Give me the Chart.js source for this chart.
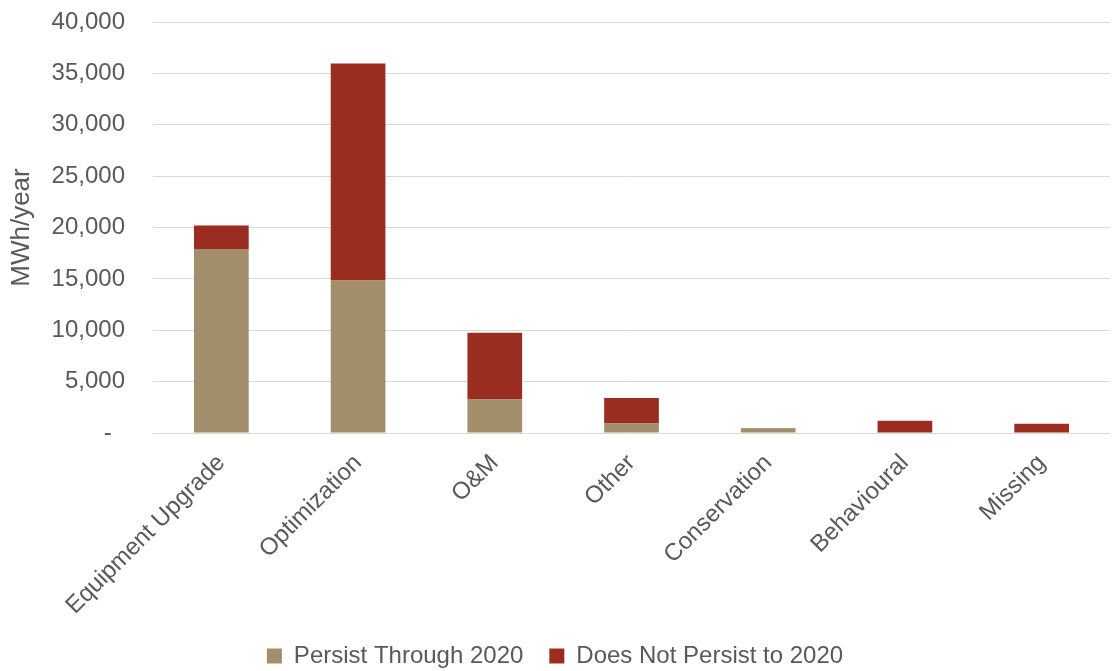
<!DOCTYPE html>
<html>
<head>
<meta charset="utf-8">
<title>Savings by measure type</title>
<script src="https://cdn.jsdelivr.net/npm/chart.js@4.4.0/dist/chart.umd.min.js"></script>
<style>
  html, body { margin:0; padding:0; background:#fff; }
  #wrap { width:1119px; height:671px; }
</style>
</head>
<body>
<div id="wrap"><canvas id="myChart" width="1119" height="671"></canvas></div>
<script>
// measure types and savings (MWh/year)
const categories = ['Equipment Upgrade', 'Optimization', 'O&M', 'Other', 'Conservation', 'Behavioural', 'Missing'];
const persist_values = [17900, 14850, 3250, 930, 460, 60, 50];
const not_persist_values = [2300, 21100, 6500, 2470, 20, 1140, 850];
const y_ticks = [0, 5000, 10000, 15000, 20000, 25000, 30000, 35000, 40000];

const chartColors = {
  tan: '#A38E6B',
  red: '#9A2D20',
  text: '#595959',
  grid: '#d9d9d9'
};
const font_family = "'Liberation Sans', Arial, sans-serif";

Chart.defaults.font.family = font_family;
Chart.defaults.color = chartColors.text;

const data = {
  labels: categories,
  datasets: [{
    label: 'Persist Through 2020',
    backgroundColor: chartColors.tan,
    data: persist_values
  },
  {
    label: 'Does Not Persist to 2020',
    backgroundColor: chartColors.red,
    data: not_persist_values
  }]
};

const options = {
  responsive: false,
  animation: false,
  layout: {
    // bottom is negative so the legend sits close to the lower edge
    padding: { top: 22, right: 9, left: 0, bottom: -7 }
  },
  datasets: {
    bar: { categoryPercentage: 1.0, barPercentage: 0.4 }
  },
  scales: {
    x: {
      stacked: true,
      grid: { display: false },
      border: { display: false },
      ticks: {
        font: { size: 24 },
        color: chartColors.text,
        minRotation: 45,
        maxRotation: 45,
        padding: 8
      },
      afterFit: function(scale) { scale.height = 185; }
    },
    y: {
      stacked: true,
      min: 0,
      max: 40000,
      // invisible tick marks give the gap between labels and gridlines
      grid: { color: chartColors.grid, lineWidth: 1, drawTicks: true, tickLength: 24, tickColor: 'rgba(0,0,0,0)' },
      border: { display: false },
      title: {
        display: true,
        text: 'MWh/year',
        font: { size: 26 },
        color: chartColors.text,
        padding: { top: 6, bottom: 0 }
      },
      ticks: {
        stepSize: 5000,
        font: { size: 24 },
        color: chartColors.text,
        padding: 4,
        callback: function(value) {
          if (y_ticks.indexOf(value) < 0) return null;
          return value == 0 ? '-  ' : value.toLocaleString('en-US');
        }
      },
      afterFit: function(scale) { scale.width = 153; }
    }
  },
  plugins: {
    tooltip: { enabled: false },
    legend: {
      position: 'bottom',
      labels: {
        boxWidth: 15,
        boxHeight: 15,
        padding: 26,
        color: chartColors.text,
        font: { size: 24 }
      }
    }
  }
};

const ctx = document.getElementById('myChart').getContext('2d');
const myBarChart = new Chart(ctx, { type: 'bar', data: data, options: options });
</script>
</body>
</html>
